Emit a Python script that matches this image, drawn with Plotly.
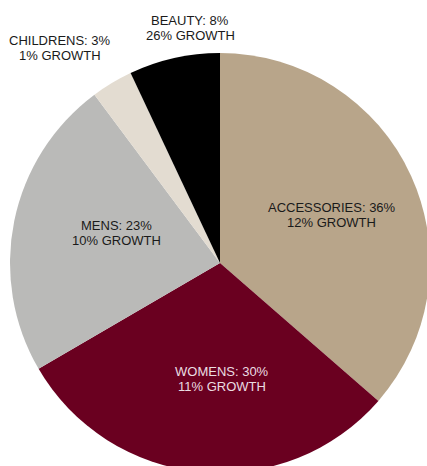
import math
import plotly.graph_objects as go

categories = ["ACCESSORIES", "WOMENS", "MENS", "CHILDRENS", "BEAUTY"]
slice_values = [36.4, 30.2, 23.2, 3.2, 7.0]
# percentages as printed in the labels
label_share = [36, 30, 23, 3, 8]
growth = [12, 11, 10, 1, 26]

colors = ["#B8A58A", "#6A0020", "#BABAB8", "#E3DCD1", "#000000"]
text_colors = ["#1a1a1a", "#EADDE2", "#1a1a1a", "#1a1a1a", "#1a1a1a"]
label_radius = [0.58, 0.55, 0.52, 1.28, 1.13]
label_offset = [(1, 2.5), (13, 1), (4, -8), (-22, 15.5), (22, -3.4)]

W, H = 440, 480
CX, CY, R = 220, 263, 210
LINE_GAP = 15

fig = go.Figure(go.Pie(
    labels=categories,
    values=slice_values,
    sort=False,
    direction="clockwise",
    rotation=0,
    marker=dict(colors=colors, line=dict(width=0)),
    textinfo="none",
    hoverinfo="none",
    showlegend=False,
    domain=dict(x=[(CX - R) / W, (CX + R) / W], y=[(H - (CY + R)) / H, (H - (CY - R)) / H]),
))

total = sum(slice_values)
cum = 0
for cat, v, s, g, tc, rf, off in zip(categories, slice_values, label_share, growth,
                                      text_colors, label_radius, label_offset):
    mid = (cum + v / 2) / total * 2 * math.pi
    cum += v
    px = CX + rf * R * math.sin(mid) + off[0]
    py = CY - rf * R * math.cos(mid) + off[1]
    for txt, dy in ((f"{cat}: {s}%", -LINE_GAP / 2), (f"{g}% GROWTH", LINE_GAP / 2)):
        fig.add_annotation(
            x=px / W, y=1 - (py + dy) / H, xref="paper", yref="paper",
            text=txt,
            showarrow=False,
            font=dict(family="Liberation Sans, Arial, sans-serif", size=13, color=tc),
            xanchor="center", yanchor="middle", align="center",
        )

fig.update_layout(
    width=W, height=H,
    margin=dict(l=0, r=0, t=0, b=0),
    paper_bgcolor="white",
    plot_bgcolor="white",
)

fig.write_html("out.html", post_script="document.body.style.margin='0';document.body.style.overflow='hidden';document.documentElement.style.overflow='hidden';")
